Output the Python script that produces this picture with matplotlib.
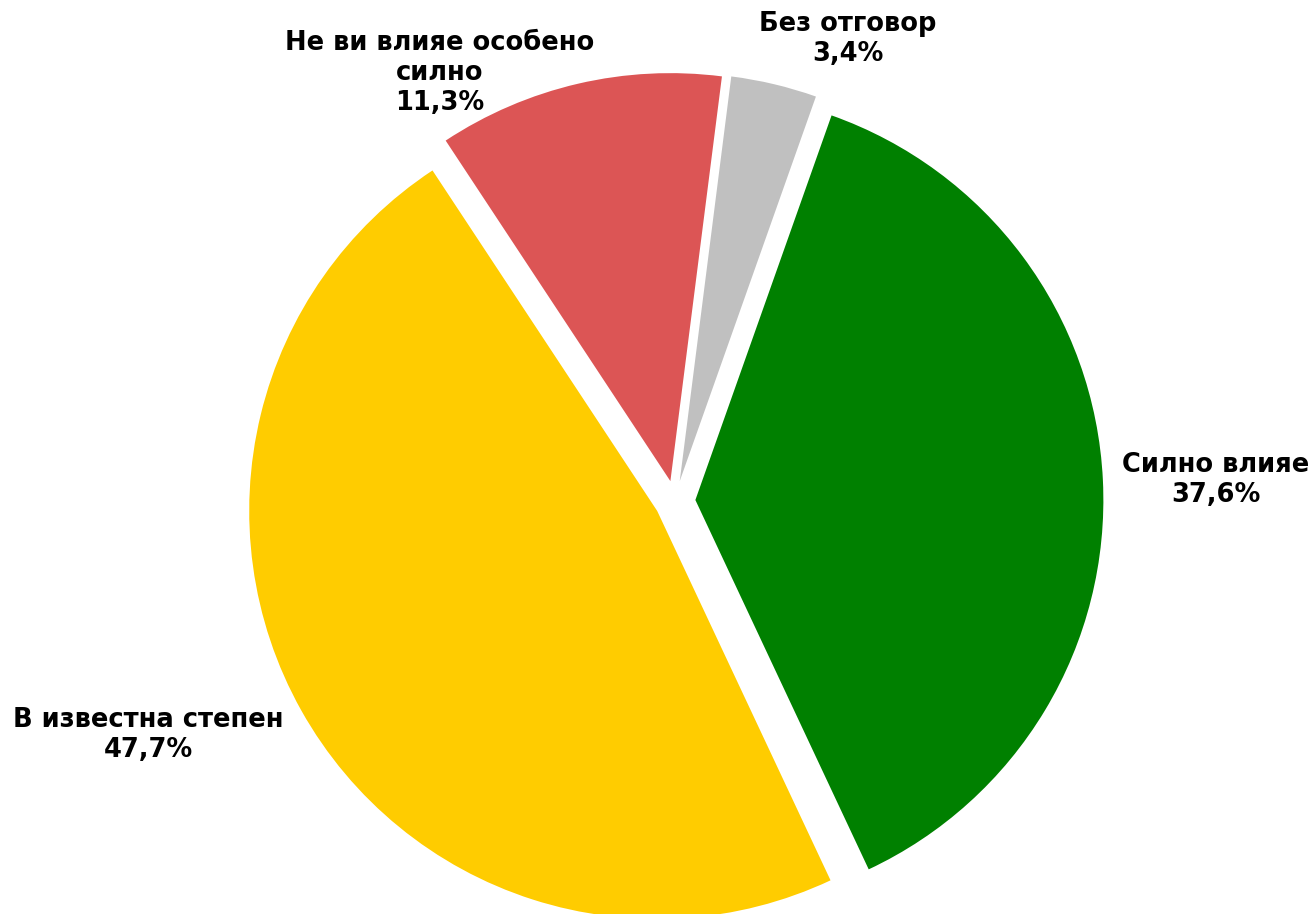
import matplotlib
matplotlib.use("Agg")
import matplotlib.pyplot as plt

# Survey answers (percent), drawn clockwise
categories = ["Силно влияе", "В известна степен", "Не ви влияе особено\nсилно", "Без отговор"]
values = [37.6, 47.7, 11.3, 3.4]
colors = ["#008000", "#FFCC00", "#DC5555", "#C0C0C0"]

W, H, DPI = 1314, 914, 100
fig = plt.figure(figsize=(W / DPI, H / DPI), dpi=DPI)
ax = fig.add_axes([0, 0, 1, 1])

R = 408.0          # pie radius in pixels
cx, cy = 675.0, 501.0  # pie centre in pixels (from top-left)

wedges, _ = ax.pie(
    values,
    colors=colors,
    startangle=70.5,
    counterclock=False,
    explode=[0.05] * len(values),
    radius=1.0,
    wedgeprops=dict(linewidth=0),
)

ax.set_aspect("equal")
ax.set_xlim(-cx / R, (W - cx) / R)
ax.set_ylim(-(H - cy) / R, cy / R)
ax.axis("off")


def px(x, y):
    return (x - cx) / R, (cy - y) / R


label_pos = [(1216, 480), (148, 735), (440, 73), (848, 39)]
for cat, val, (x, y) in zip(categories, values, label_pos):
    txt = f"{cat}\n{val:.1f}%".replace(".", ",")
    ax.text(*px(x, y), txt, ha="center", va="center", fontsize=18.5,
            fontweight="bold", family="DejaVu Sans", linespacing=1.22,
            color="black")

fig.savefig("out.png", dpi=DPI, facecolor="white")
